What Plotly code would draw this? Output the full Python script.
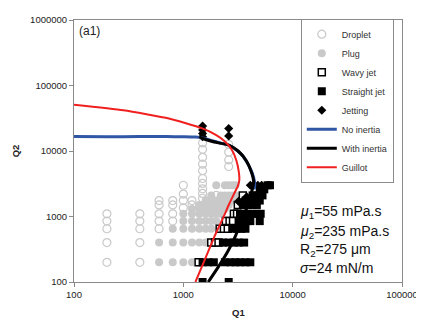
import plotly.graph_objects as go

# ---------------- data ----------------
droplet_q1 = [200, 200, 200, 200, 200,
              400, 400, 400, 400, 400,
              600, 600, 600, 600, 600,
              800, 800, 800, 800,
              1000, 1000, 1000, 1000,
              1200, 1200,
              1500, 1500, 1500, 1500, 1500, 1500, 1500, 1500, 1500, 1500,
              2000,
              2600, 2600, 2600, 2600]
droplet_q2 = [200, 400, 650, 850, 1100,
              200, 400, 650, 850, 1100,
              650, 850, 1100, 1500, 1750,
              850, 1100, 1500, 1750,
              1350, 1750, 2200, 3000,
              1500, 1750,
              1900, 2250, 2650, 3200, 3800, 5000, 6300, 8000, 10600, 13300,
              2100,
              5800, 7300, 9600, 12600]

plug_q1 = [600, 600,
           800, 800, 800,
           1000, 1000, 1000, 1000, 1000,
           1200, 1200, 1200, 1200, 1200, 1200,
           1400, 1400, 1400, 1400, 1400, 1400,
           1600, 1600, 1600, 1600, 1600, 1600, 1600,
           1800, 1800, 1800, 1800, 1800, 1800, 1800,
           2000, 2000, 2000, 2000, 2000, 2000,
           2200, 2200, 2200, 2200, 2200,
           2400, 2400, 2400, 2400, 2400,
           2600, 2600, 2600, 2600,
           2800, 2800, 2800,
           3000, 3000]
plug_q2 = [200, 400,
           200, 400, 650,
           200, 400, 650, 850, 1100,
           200, 400, 650, 850, 1100, 1300,
           400, 650, 850, 1100, 1300, 1500,
           400, 650, 850, 1100, 1300, 1500, 1750,
           650, 850, 1100, 1300, 1500, 1750, 2100,
           850, 1100, 1300, 1500, 1750, 3000,
           1100, 1300, 1500, 1750, 2100,
           1300, 1500, 1750, 2100, 3000,
           1500, 1750, 2100, 3000,
           1750, 2100, 3000,
           2100, 3000]

wavy_q1 = [1380, 1800, 1950, 2100, 2150, 2350, 2550, 2450, 2650, 2850, 2900, 3100, 3150, 3500]
wavy_q2 = [200, 400, 400, 400, 650, 650, 650, 850, 850, 850, 1100, 1100, 1500, 2100]

straight_q1 = [1500, 2600,
               1500, 1700, 1900, 2400, 2700, 3000, 3300, 3700, 4100,
               2300, 2600, 2900, 3200, 3600,
               2800, 3100, 3400, 3700,
               3200, 3500, 3800, 4100, 5000,
               3300, 3600, 3900, 4300, 4700, 5100,
               3500, 3900, 4300, 4700,
               3700, 4100, 4500, 5000,
               4300, 4700, 5300,
               5000, 5500,
               5900, 6200]
straight_q2 = [100, 100,
               200, 200, 200, 200, 200, 200, 200, 200, 200,
               400, 400, 400, 400, 400,
               650, 650, 650, 650,
               850, 850, 850, 850, 850,
               1100, 1100, 1100, 1100, 1100, 1100,
               1500, 1500, 1500, 1500,
               1750, 1750, 1750, 1750,
               2100, 2100, 2100,
               2600, 2600,
               3000, 3000]

jetting_q1 = [1500, 1500, 1500, 1500, 2600, 2600, 4100, 4400, 4800, 5200, 3200, 3500, 3800]
jetting_q2 = [24000, 21000, 18500, 16500, 22000, 17000, 3000, 3000, 3000, 3000, 1700, 1700, 2000]

noinertia_q1 = [100, 200, 400, 700, 1000, 1300, 1500, 1800, 2100, 2600, 3000, 3500, 3900, 4250, 4450, 4500, 4450]
noinertia_q2 = [16600, 16500, 16600, 16600, 16500, 16300, 15800, 14500, 13500, 12300, 10600, 8400, 6300, 4700, 3600, 3000, 2600]

inertia_q1 = [1400, 1500, 1810, 2100, 2570, 3170, 3770, 4200, 4400, 4300, 4150, 3900, 3400, 2960, 2570, 2090, 1690]
inertia_q2 = [16500, 15600, 14100, 13300, 12400, 10000, 7100, 4740, 3360, 2700, 2200, 1500, 850, 480, 300, 170, 100]

guillot_q1 = [100, 283, 738, 1470, 2000, 2390, 2760, 3060, 3220, 3250, 3150, 2900, 2600, 2400, 2200, 1940, 1535, 1290]
guillot_q2 = [50800, 41800, 31300, 22300, 17500, 14100, 10600, 7100, 4740, 3600, 2900, 2200, 1500, 1100, 800, 510, 200, 100]

x_ticks = [100, 1000, 10000, 100000]
x_tick_labels = ["100", "1000", "10000", "100000"]
y_ticks = [100, 1000, 10000, 100000, 1000000]
y_tick_labels = ["100", "1000", "10000", "100000", "1000000"]

# ---------------- figure ----------------
LG = "#c9c9c9"
fig = go.Figure()

fig.add_trace(go.Scatter(x=droplet_q1, y=droplet_q2, mode="markers", name="Droplet",
                         marker=dict(symbol="circle-open", size=8, color=LG, line=dict(width=1.2, color=LG))))
fig.add_trace(go.Scatter(x=plug_q1, y=plug_q2, mode="markers", name="Plug",
                         marker=dict(symbol="circle", size=8, color=LG, line=dict(width=0))))
fig.add_trace(go.Scatter(x=wavy_q1, y=wavy_q2, mode="markers", name="Wavy jet",
                         marker=dict(symbol="square", size=7, color="white", line=dict(width=1.5, color="black"))))
fig.add_trace(go.Scatter(x=straight_q1, y=straight_q2, mode="markers", name="Straight jet",
                         marker=dict(symbol="square", size=8, color="black", line=dict(width=0))))
fig.add_trace(go.Scatter(x=jetting_q1, y=jetting_q2, mode="markers", name="Jetting",
                         marker=dict(symbol="diamond", size=7, color="black", line=dict(width=0))))
fig.add_trace(go.Scatter(x=noinertia_q1, y=noinertia_q2, mode="lines", name="No inertia",
                         line=dict(color="#3056a6", width=3, shape="spline", smoothing=0.6)))
fig.add_trace(go.Scatter(x=inertia_q1, y=inertia_q2, mode="lines", name="With inertia",
                         line=dict(color="black", width=3, shape="spline", smoothing=0.6)))
fig.add_trace(go.Scatter(x=guillot_q1, y=guillot_q2, mode="lines", name="Guillot",
                         line=dict(color="#f02020", width=2, shape="spline", smoothing=0.5)))

FONT = "Liberation Sans, Arial, sans-serif"
axis_common = dict(type="log", showgrid=False, zeroline=False, showline=True, linecolor="#8a8a8a",
                   linewidth=1, mirror=True, ticks="outside", ticklen=4, tickcolor="#8a8a8a",
                   tickfont=dict(family=FONT, size=9.5, color="#222"))

# the page body has an 8px default margin, so the figure is 8px smaller than the window
fig.update_layout(
    width=416, height=313, autosize=False,
    margin=dict(l=66, r=18, t=6, b=39),
    paper_bgcolor="white", plot_bgcolor="white",
    font=dict(family=FONT, color="#222"),
    xaxis=dict(axis_common, range=[2, 5], tickvals=x_ticks, ticktext=x_tick_labels),
    yaxis=dict(axis_common, range=[2, 6], tickvals=y_ticks, ticktext=y_tick_labels),
    showlegend=True,
    legend=dict(x=0.975, xanchor="right", y=1.005, yanchor="top", maxheight=300,
                bgcolor="white", bordercolor="#8a8a8a", borderwidth=1,
                font=dict(family=FONT, size=9, color="#333"), itemwidth=30),
)

fig.add_annotation(text="<b>Q2</b>", x=-0.178, y=0.501, xref="paper", yref="paper", showarrow=False,
                   textangle=-90, xanchor="center", yanchor="middle",
                   font=dict(size=9.5, family=FONT, color="#222"))
fig.add_annotation(text="<b>Q1</b>", x=0.5026, y=-0.115, xref="paper", yref="paper", showarrow=False,
                   xanchor="center", yanchor="middle", font=dict(size=9.5, family=FONT, color="#222"))

fig.add_annotation(text="(a1)", x=0.009, y=0.957, xref="paper", yref="paper", showarrow=False,
                   xanchor="left", yanchor="middle", font=dict(size=12, family=FONT, color="#222"))

labels = [
    ("<i>μ</i><sub>1</sub>=55 mPa.s", 0.266),
    ("<i>μ</i><sub>2</sub>=235 mPa.s", 0.191),
    ("R<sub>2</sub>=275 μm", 0.124),
    ("<i>σ</i>=24 mN/m", 0.053),
]
for t, yy in labels:
    fig.add_annotation(text=t, x=0.684, y=yy, xref="paper", yref="paper", showarrow=False,
                       xanchor="left", yanchor="middle", font=dict(size=14, family=FONT, color="#111"))

fig.write_html("out.html")
